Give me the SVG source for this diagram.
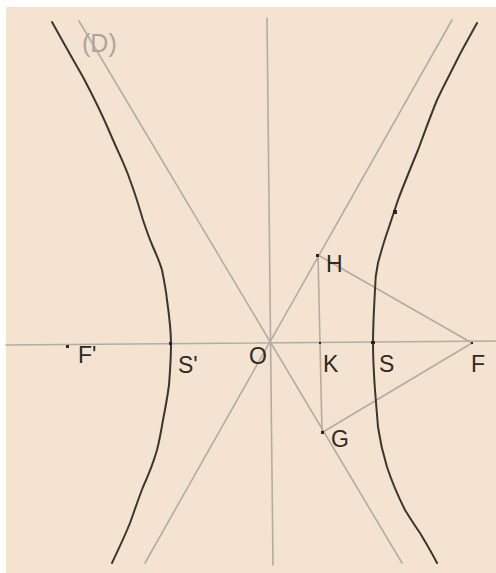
<svg xmlns="http://www.w3.org/2000/svg" width="496" height="573" viewBox="0 0 496 573">
<style>
.bg{fill:#f3e3d0}
.ln{stroke:#b3aca3;stroke-width:1.6;fill:none;stroke-linecap:round}
.cv{stroke:#3c3630;stroke-width:2;fill:none;stroke-linecap:round;stroke-linejoin:round}
.pt{fill:#2a2520}
.lb{font-family:"Liberation Sans",Arial,sans-serif;font-size:23px;fill:#2e2a26}
.d{font-family:"Liberation Sans",Arial,sans-serif;font-size:25px;fill:#aca59c}
</style>
<rect x="0" y="0" width="496" height="573" fill="#ffffff"/>
<rect class="bg" x="6" y="7" width="490" height="566"/>
<g id="connectors">
<line class="ln" x1="6" y1="345" x2="496" y2="341"/>
<line class="ln" x1="267" y1="18" x2="273" y2="565"/>
<line class="ln" x1="452" y1="20" x2="145" y2="563"/>
<line class="ln" x1="79" y1="21" x2="402" y2="563"/>
<line class="ln" x1="318" y1="255" x2="322" y2="432"/>
<line class="ln" x1="318" y1="255" x2="472" y2="343"/>
<line class="ln" x1="323" y1="432" x2="472" y2="343"/>
</g>
<g id="hyperbola">
<path class="cv" d="M52,22 C62,40 72,58 83,77 C93,96 102,114 110,133 C118,152 125,165 130,180 C136,196 140,210 143,220 C147,232 150,240 153,247 C157,256 160,263 162,270 C164,280 166,290 167,300 C169,314 171,330 171,344 C171,360 170,372 169,385 C167,400 165,410 163,420 C161,432 159,442 157,450 C153,464 148,476 143,487 C138,500 134,512 130,523 C124,538 118,550 112,563"/>
<path class="cv" d="M477,23 C470,36 463,48 457,60 C450,74 443,87 437,100 C430,117 424,134 418,150 C411,167 404,184 398,200 C394,212 391,221 388,230 C384,241 381,252 378,263 C376,272 375,281 375,290 C374,308 373,326 373,343 C373,360 374,376 375,390 C376,403 377,415 378,427 C380,441 383,454 387,467 C392,482 398,496 405,510 C410,518 415,526 420,533 C426,543 432,553 437,563"/>
</g>
<g id="D"><text class="d" x="82" y="52">(D)</text></g>
<g id="Fp"><rect class="pt" x="66" y="345" width="3" height="3"/><text class="lb" x="78" y="363">F'</text></g>
<g id="Sp"><rect class="pt" x="169" y="342" width="3" height="3"/><text class="lb" x="178" y="373">S'</text></g>
<g id="O"><text class="lb" x="249" y="364">O</text></g>
<g id="K"><rect class="pt" x="319" y="342" width="2" height="2"/><text class="lb" x="323" y="372">K</text></g>
<g id="S"><rect class="pt" x="371" y="341" width="4" height="3"/><text class="lb" x="379" y="372">S</text></g>
<g id="F"><rect class="pt" x="471" y="342" width="2" height="2"/><text class="lb" x="471" y="372">F</text></g>
<g id="H"><rect class="pt" x="316" y="254" width="3" height="3"/><text class="lb" x="326" y="272">H</text></g>
<g id="G"><rect class="pt" x="321" y="431" width="3" height="3"/><text class="lb" x="331" y="447">G</text></g>
<g id="P"><rect class="pt" x="393" y="210" width="4" height="4"/></g>
</svg>
